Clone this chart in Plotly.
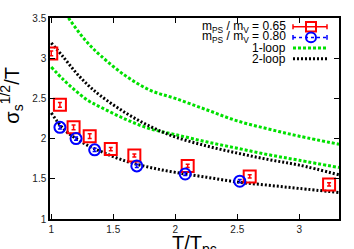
import plotly.graph_objects as go

# Data points
x_065 = [1.00, 1.07, 1.18, 1.31, 1.48, 1.67, 2.10, 2.60, 3.24]
y_065 = [3.06, 2.42, 2.14, 2.03, 1.87, 1.79, 1.66, 1.53, 1.43]
e_065 = [0.03, 0.03, 0.03, 0.03, 0.02, 0.02, 0.02, 0.02, 0.02]

x_080 = [1.07, 1.20, 1.35, 1.69, 2.08, 2.52]
y_080 = [2.14, 2.00, 1.86, 1.66, 1.56, 1.47]
e_080 = [0.02, 0.02, 0.02, 0.02, 0.02, 0.02]

# curves
x_curve = [1.0, 1.1, 1.2, 1.3, 1.4, 1.6, 1.8, 2.0, 2.25, 2.5, 2.75, 3.0, 3.32]
y_1loop_hi = [3.95, 3.60, 3.37, 3.18, 3.03, 2.78, 2.60, 2.50, 2.36, 2.22, 2.12, 2.03, 1.93]
y_1loop_lo = [2.89, 2.73, 2.59, 2.47, 2.39, 2.24, 2.12, 2.05, 1.96, 1.88, 1.80, 1.73, 1.64]
y_2loop_hi = [3.19, 3.01, 2.82, 2.66, 2.53, 2.32, 2.15, 2.02, 1.91, 1.82, 1.74, 1.67, 1.55]
y_2loop_lo = [2.32, 2.12, 2.00, 1.91, 1.84, 1.72, 1.64, 1.58, 1.52, 1.46, 1.42, 1.38, 1.33]

x_ticks = [1, 1.5, 2, 2.5, 3]
y_ticks = [1, 1.5, 2, 2.5, 3, 3.5]

legend_labels = ["m<sub>PS</sub> / m<sub>V</sub> = 0.65",
                 "m<sub>PS</sub> / m<sub>V</sub> = 0.80",
                 "1-loop", "2-loop"]

GREEN = "#00e000"
RED = "#ff0000"
BLUE = "#0000ff"

fig = go.Figure()
for yc in [y_1loop_hi, y_1loop_lo]:
    fig.add_trace(go.Scatter(x=x_curve, y=yc, mode="lines", line_shape="spline",
                             line=dict(color=GREEN, width=3, dash="3px,2px"),
                             showlegend=False))
for yc in [y_2loop_hi, y_2loop_lo]:
    fig.add_trace(go.Scatter(x=x_curve, y=yc, mode="lines", line_shape="spline",
                             line=dict(color="black", width=3, dash="2px,2px"),
                             showlegend=False))

fig.add_trace(go.Scatter(x=x_065, y=y_065, mode="markers",
                         marker=dict(symbol="square-open", size=12, color=RED, line=dict(width=2)),
                         error_y=dict(type="data", array=e_065, color=RED, thickness=1.5, width=2),
                         showlegend=False))
fig.add_trace(go.Scatter(x=x_080, y=y_080, mode="markers",
                         marker=dict(symbol="circle-open", size=11, color=BLUE, line=dict(width=2)),
                         error_y=dict(type="data", array=e_080, color=BLUE, thickness=1.5, width=2),
                         showlegend=False))

# plot area pixel geometry for manual legend
L, R, T, B = 50, 339, 12, 219
W, H = R - L, B - T
def px(x): return (x - L) / W
def py(y): return (B - y) / H

shapes = []
annotations = []
rows = [21, 32, 43, 54]
for lab, yy in zip(legend_labels, rows):
    annotations.append(dict(x=px(288), y=py(yy), xref="paper", yref="paper",
                            text=lab, showarrow=False, xanchor="right", yanchor="middle",
                            font=dict(size=12, color="black", family="Liberation Sans, Arial")))
x0, x1, xm = 293, 327, 311
# red sample
shapes.append(dict(type="line", xref="paper", yref="paper", x0=px(x0), x1=px(x1), y0=py(21), y1=py(21),
                   line=dict(color=RED, width=1.5)))
for xx in (x0, x1):
    shapes.append(dict(type="line", xref="paper", yref="paper", x0=px(xx), x1=px(xx), y0=py(18.5), y1=py(23.5),
                       line=dict(color=RED, width=1.5)))
shapes.append(dict(type="rect", xref="paper", yref="paper", x0=px(xm - 5), x1=px(xm + 5), y0=py(16), y1=py(26),
                   line=dict(color=RED, width=2)))
# blue sample
shapes.append(dict(type="line", xref="paper", yref="paper", x0=px(x0), x1=px(x1), y0=py(32), y1=py(32),
                   line=dict(color=BLUE, width=1.5, dash="dot")))
for xx in (x0, x1):
    shapes.append(dict(type="line", xref="paper", yref="paper", x0=px(xx), x1=px(xx), y0=py(29.5), y1=py(34.5),
                       line=dict(color=BLUE, width=1.5)))
shapes.append(dict(type="circle", xref="paper", yref="paper", x0=px(xm - 5), x1=px(xm + 5), y0=py(27), y1=py(37),
                   line=dict(color=BLUE, width=2)))
# green / black samples
shapes.append(dict(type="line", xref="paper", yref="paper", x0=px(x0), x1=px(x1), y0=py(43), y1=py(43),
                   line=dict(color=GREEN, width=3, dash="3px,2px")))
shapes.append(dict(type="line", xref="paper", yref="paper", x0=px(x0), x1=px(x1), y0=py(54), y1=py(54),
                   line=dict(color="black", width=3, dash="2px,2px")))

# axis titles
annotations.append(dict(x=0.5, y=py(230), xref="paper", yref="paper", text="T/T<sub>pc</sub>",
                        showarrow=False, xanchor="center", yanchor="top",
                        font=dict(size=20, color="black", family="Liberation Sans, Arial")))
annotations.append(dict(x=px(12), y=py(92), xref="paper", yref="paper",
                        text="σ<sub>s</sub><sup>1/2</sup>/T", textangle=-90,
                        showarrow=False, xanchor="center", yanchor="middle",
                        font=dict(size=20, color="black", family="Liberation Sans, Arial")))

axis_common = dict(showgrid=False, zeroline=False, showline=True, linecolor="black", linewidth=1.5,
                   mirror="ticks", ticks="inside", ticklen=5, tickcolor="black", tickwidth=1,
                   tickfont=dict(size=10, color="#222222", family="Liberation Sans, Arial"))
fig.update_xaxes(range=[0.99, 3.32], tickvals=x_ticks, ticktext=[str(v) for v in x_ticks], **axis_common)
fig.update_yaxes(range=[1, 3.5], tickvals=y_ticks, ticktext=[str(v) for v in y_ticks], **axis_common)

fig.update_layout(width=354, height=249, margin=dict(l=L, r=354 - R, t=T, b=249 - B),
                  paper_bgcolor="white", plot_bgcolor="white",
                  shapes=shapes, annotations=annotations, showlegend=False)

fig.write_html("out.html", config={"displayModeBar": False},
               post_script="document.body.style.margin='0';document.body.style.overflow='hidden';")
